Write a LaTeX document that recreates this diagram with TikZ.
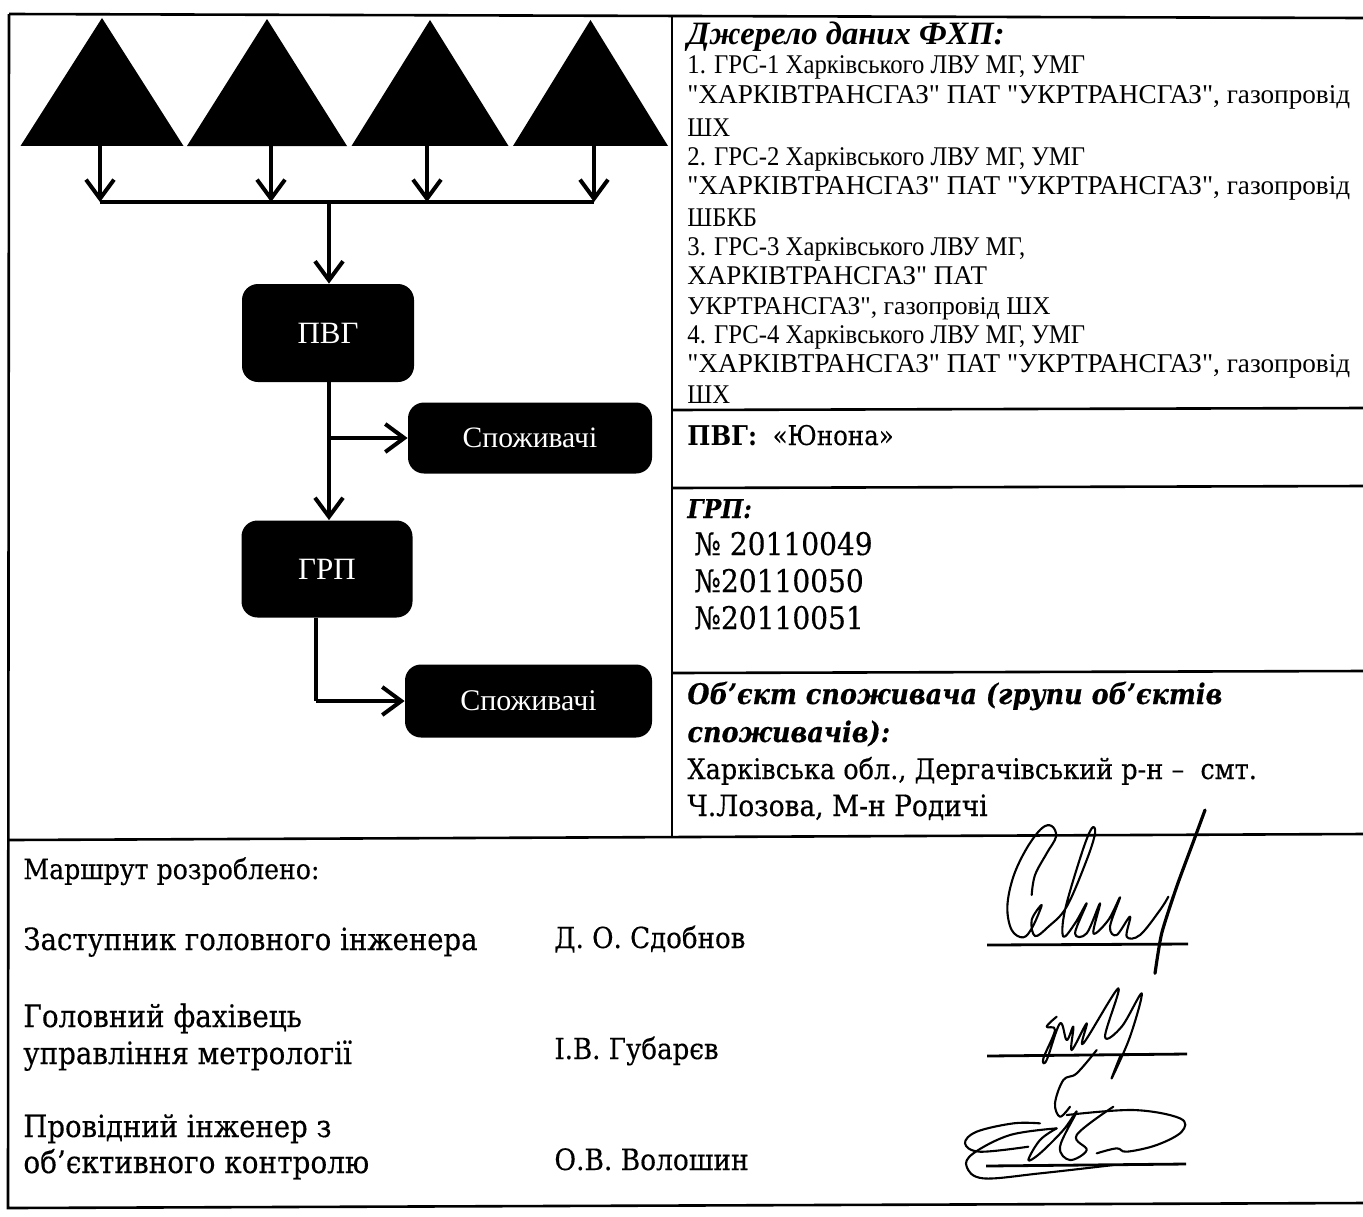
\documentclass[tikz,border=0pt]{standalone}
\usepackage{fontspec}
\setmainfont{Liberation Serif}
\newfontfamily\srcfont{Liberation Serif}
\newfontfamily\srcnarrow[FakeStretch=0.915]{Liberation Serif}
\newfontfamily\lowfont[FakeBold=0.35,BoldFeatures={FakeBold=0}]{DejaVu Serif Condensed}
\usetikzlibrary{arrows.meta,shapes.geometric}
\tikzset{
  rule/.style={line width=1.3pt},
  sigline/.style={line width=1.4pt},
  tria/.style={shape=isosceles triangle,shape border rotate=90,isosceles triangle stretches,
    fill=black,inner sep=0pt,outer sep=0pt,anchor=south},
  blackbox/.style={fill=black,text=white,rounded corners=8pt,inner sep=0pt},
  srcline/.style={anchor=base west,yshift=-4pt,font=\srcfont\fontsize{#1}{14}\selectfont,inner sep=0pt},
  srcline/.default=13.6,
  srcshort/.style={anchor=base west,yshift=-4pt,font=\srcnarrow\fontsize{13.5}{14}\selectfont,inner sep=0pt},
  lowline/.style={anchor=base west,yshift=-5pt,font=\lowfont\fontsize{#1}{16}\selectfont,inner sep=0pt},
  lowline/.default=13.6,
  lowhead/.style={anchor=base west,yshift=-5pt,font=\lowfont\bfseries\itshape\fontsize{#1}{16}\selectfont,inner sep=0pt},
  flow/.style={line width=2pt,-{Straight Barb[length=9.5pt,width=14pt,line width=2pt]}},
  pen/.style={line width=1.05pt,line cap=round,line join=round},
}
\begin{document}
\begin{tikzpicture}[x=0.5pt,y=-0.5pt]
  \useasboundingbox (0,0) rectangle (1363,1216);
  % table rules
  \draw[rule] (9,14) -- (1363,18);
  \draw[rule] (9,14) -- (8,1208) -- (1363,1203);
  \draw[rule] (672,17) -- (672,838);
  \draw[rule] (672,410) -- (1363,408);
  \draw[rule] (672,488) -- (1363,486);
  \draw[rule] (672,673) -- (1363,671);
  \draw[rule] (9,840) -- (1363,834);
  % sources
  \node[tria,minimum width=81.5pt,minimum height=64pt] (tri1) at (102,146) {};
  \node[tria,minimum width=80pt,minimum height=63.5pt] (tri2) at (267,146) {};
  \node[tria,minimum width=78.5pt,minimum height=63pt] (tri3) at (430,146) {};
  \node[tria,minimum width=77.5pt,minimum height=63pt] (tri4) at (590.5,146) {};
  \coordinate (bus1) at (100,202);
  \coordinate (bus2) at (271,202);
  \coordinate (bus3) at (427,202);
  \coordinate (bus4) at (594,202);
  \coordinate (bushub) at (329,202);
  % boxes
  \node[blackbox,minimum width=86pt,minimum height=49pt,font=\fontsize{15.5}{18}\selectfont] (pvg) at (328,333) {ПВГ};
  \node[blackbox,minimum width=122pt,minimum height=35.5pt,font=\fontsize{14.8}{15}\selectfont] (spoz1) at (530,438) {Споживачі};
  \node[blackbox,minimum width=85.5pt,minimum height=48.5pt,font=\fontsize{15.5}{18}\selectfont] (grp) at (327,569) {ГРП};
  \node[blackbox,minimum width=123.5pt,minimum height=36.5pt,font=\fontsize{15}{15}\selectfont] (spoz2) at (528.5,701) {Споживачі};
  \coordinate (pvgtap) at (329,438);
  \coordinate (grptap) at (316,701);
  % connectors
  \begin{scope}[line width=2pt]
    \draw[flow] (tri1.south -| bus1) to (bus1);
    \draw[flow] (tri2.south -| bus2) to (bus2);
    \draw[flow] (tri3.south -| bus3) to (bus3);
    \draw[flow] (tri4.south -| bus4) to (bus4);
    \draw (bus1) to (bus4);
    \draw[flow] (bushub) to (bushub |- pvg.north);
    \draw[flow] (pvgtap |- pvg.south) to (pvgtap |- grp.north);
    \draw[flow] (pvgtap) to (spoz1.west);
    \draw (grptap |- grp.south) to (grptap);
    \draw[flow] (grptap) to (spoz2.west);
  \end{scope}
  % right column
  \node[srcline=16.3,font=\srcfont\bfseries\itshape\fontsize{16.3}{18}\selectfont] (src0) at (687,36) {Джерело даних ФХП:};
  \node[srcshort] (src1) at (687,65) {1. ГРС-1 Харківського ЛВУ МГ, УМГ};
  \node[srcline] (src2) at (687,95) {"ХАРКІВТРАНСГАЗ" ПАТ "УКРТРАНСГАЗ", газопровід};
  \node[srcshort] (src3) at (687,128) {ШХ};
  \node[srcshort] (src4) at (687,157) {2. ГРС-2 Харківського ЛВУ МГ, УМГ};
  \node[srcline] (src5) at (687,186) {"ХАРКІВТРАНСГАЗ" ПАТ "УКРТРАНСГАЗ", газопровід};
  \node[srcshort] (src6) at (687,218) {ШБКБ};
  \node[srcshort] (src7) at (687,247) {3. ГРС-3 Харківського ЛВУ МГ,};
  \node[srcline=13.5] (src8) at (687,276) {ХАРКІВТРАНСГАЗ" ПАТ};
  \node[srcline=12.8] (src9) at (687,306) {УКРТРАНСГАЗ", газопровід ШХ};
  \node[srcshort] (src10) at (687,335) {4. ГРС-4 Харківського ЛВУ МГ, УМГ};
  \node[srcline] (src11) at (687,364) {"ХАРКІВТРАНСГАЗ" ПАТ "УКРТРАНСГАЗ", газопровід};
  \node[srcshort] (src12) at (687,395) {ШХ};
  \node[lowline] (pvgname) at (687,435) {\textbf{ПВГ:}\ \ «Юнона»};
  \node[lowhead=13] (grphead) at (687,508) {ГРП:};
  \node[lowline=15.6] (grp1) at (694,545) {№ 20110049};
  \node[lowline=15.6] (grp2) at (694,582) {№20110050};
  \node[lowline=15.6] (grp3) at (694,619) {№20110051};
  \node[lowhead=14.2] (obj1) at (687,694) {Об’єкт споживача (групи об’єктів};
  \node[lowhead=14.2] (obj2) at (687,732) {споживачів):};
  \node[lowline=14.2] (obj3) at (687,769) {Харківська обл., Дергачівський р-н –\ \ смт.};
  \node[lowline=14.7] (obj4) at (687,806) {Ч.Лозова, М-н Родичі};
  % approval block
  \node[lowline=14] (route) at (23,869) {Маршрут розроблено:};
  \node[lowline=15.3] (post1) at (23,940) {Заступник головного інженера};
  \node[lowline=15.5] (post2a) at (23,1017) {Головний фахівець};
  \node[lowline=15.4] (post2b) at (23,1054) {управління метрології};
  \node[lowline=15.3] (post3a) at (23,1127) {Провідний інженер з};
  \node[lowline=15.5] (post3b) at (23,1163) {об’єктивного контролю};
  \node[lowline=14.5] (name1) at (554,938) {Д. О. Сдобнов};
  \node[lowline=14.5] (name2) at (554,1049) {І.В. Губарєв};
  \node[lowline=14.7] (name3) at (554,1160) {О.В. Волошин};
  \draw[sigline] (987,945) -- (1188,944);
  \draw[sigline] (987,1056) -- (1187,1054);
  \draw[sigline] (986,1166) -- (1186,1164);
  % signatures
  \begin{scope}[shift={(900,810)},x=0.16667pt,y=-0.16667pt]
    \draw[pen] plot[smooth,tension=0.6] coordinates {(395,255) (405,195) (440,130) (468,80) (455,48) (425,55) (380,115) (340,200) (322,290) (335,360) (370,382) (398,350) (425,285) (395,330) (405,378) (445,350) (500,290) (560,150) (585,70) (575,55) (545,130) (495,300) (490,380) (525,340) (560,280) (525,370) (560,370) (600,280) (580,370) (625,330) (660,262) (630,350) (650,375) (690,320) (680,380) (720,375) (780,300) (805,260)};
    \draw[pen,line width=1.6pt] plot[smooth,tension=0.4] coordinates {(915,0) (880,95) (830,230) (785,370) (765,490)};
    \draw[pen] plot[smooth,tension=0.6] coordinates {(470,620) (440,650) (465,660) (430,745) (440,750) (480,640) (500,690) (520,650) (515,720) (560,640) (550,700) (655,535) (615,680) (665,650) (725,550) (690,680) (635,805) (660,740)};
    \draw[pen] plot[smooth,tension=0.6] coordinates {(590,720) (530,790) (490,810) (465,880) (480,920) (510,890)};
    \draw[pen] plot[smooth,tension=0.6] coordinates {(420,940) (340,940) (230,965) (195,1000) (240,1025) (385,1010)};
    \draw[pen] plot[smooth,tension=0.6] coordinates {(470,955) (330,975) (220,1030) (200,1070) (250,1105) (420,1090) (640,1065)};
    \draw[pen] plot[smooth,tension=0.6] coordinates {(470,955) (420,990) (385,1050) (420,1030) (490,960) (530,905) (480,1010) (510,1050) (560,1020) (530,975) (640,890)};
    \draw[pen] plot[smooth,tension=0.6] coordinates {(500,915) (700,900) (840,925) (845,965) (770,1005) (680,1025) (650,1015) (590,1030)};
  \end{scope}
\end{tikzpicture}
\end{document}
